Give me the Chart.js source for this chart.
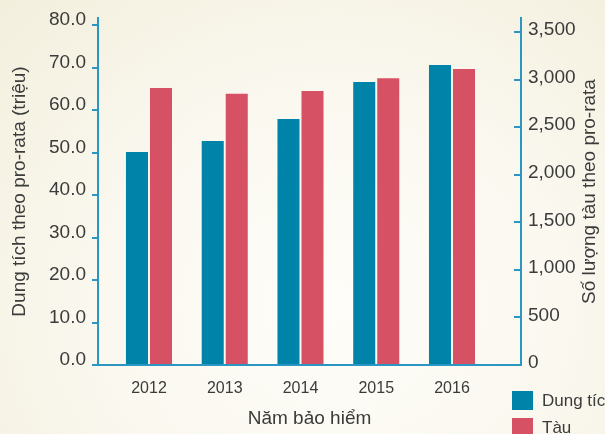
<!DOCTYPE html>
<html>
<head>
<meta charset="utf-8">
<script src="https://cdn.jsdelivr.net/npm/chart.js@4"></script>
<style>
    html, body { margin: 0; padding: 0; overflow: hidden; }
    body {
        width: 605px;
        height: 434px;
        background: radial-gradient(ellipse at 55% 70%, #fefdf9 0%, #faf8ef 50%, #f3efdd 100%);
    }
</style>
</head>
<body>
<canvas id="myChart" width="605" height="434"></canvas>
<script>
// data
const years = [2012, 2013, 2014, 2015, 2016];
const dungTich = [50.1, 52.7, 57.9, 66.6, 70.6];   // left axis (triệu)
const tau = [2910, 2850, 2880, 3015, 3110];        // right axis
const leftTicks = [0, 10, 20, 30, 40, 50, 60, 70, 80];
const rightTicks = [0, 500, 1000, 1500, 2000, 2500, 3000, 3500];
const seriesLabels = ['Dung tích', 'Tàu'];

const axisColor = '#2a97c2';
const textColor = '#3b3b3b';
const fontFamily = '"Liberation Sans", Arial, sans-serif';

Chart.defaults.color = textColor;
Chart.defaults.font.family = fontFamily;

// legend in the bottom right corner, stacked, runs off the canvas edge like the original
const bottomLegend = {
    id: 'bottomLegend',
    afterDraw(chart) {
        const ctx = chart.ctx;
        const area = chart.chartArea;
        ctx.save();
        ctx.font = '17px ' + fontFamily;
        ctx.textBaseline = 'middle';
        chart.data.datasets.forEach((ds, i) => {
            const y = area.bottom + 26 + i * 27;
            ctx.fillStyle = ds.backgroundColor;
            ctx.fillRect(area.right - 9, y, 21, 19);
            ctx.fillStyle = textColor;
            ctx.fillText(ds.label, area.right + 21, y + 10);
        });
        ctx.restore();
    }
};

// right axis title reads bottom to top, chart.js would rotate it the other way
const rightTitle = {
    id: 'rightTitle',
    afterDraw(chart) {
        const s = chart.scales.y2;
        const ctx = chart.ctx;
        ctx.save();
        ctx.translate(s.right - 15, (s.top + s.bottom) / 2);
        ctx.rotate(-Math.PI / 2);
        ctx.font = '19px ' + fontFamily;
        ctx.fillStyle = textColor;
        ctx.textAlign = 'center';
        ctx.textBaseline = 'middle';
        ctx.fillText('Số lượng tàu theo pro-rata', 0, 0);
        ctx.restore();
    }
};

// keep chart.js from pushing the plot area in for label overhang
function noPad(scale) {
    scale.paddingTop = 0;
    scale.paddingBottom = 0;
    scale.paddingLeft = 0;
    scale.paddingRight = 0;
}

const ctx = document.getElementById('myChart').getContext('2d');
const myChart = new Chart(ctx, {
    type: 'bar',
    data: {
        datasets: [
            {
                label: seriesLabels[0],
                data: years.map((y, i) => ({ x: y, y: dungTich[i] })),
                backgroundColor: '#0083a9',
                yAxisID: 'y',
                categoryPercentage: 0.634,
                barPercentage: 0.917,
            },
            {
                label: seriesLabels[1],
                data: years.map((y, i) => ({ x: y, y: tau[i] })),
                backgroundColor: '#d55163',
                yAxisID: 'y2',
                categoryPercentage: 0.634,
                barPercentage: 0.917,
            },
        ]
    },
    options: {
        responsive: false,
        animation: false,
        layout: { padding: { top: 18, left: 0, right: 0, bottom: 0 } },
        plugins: {
            legend: { display: false },
            tooltip: { enabled: false }
        },
        scales: {
            x: {
                type: 'linear',
                offset: false,
                min: 2011.327,
                max: 2016.911,
                afterBuildTicks: scale => { scale.ticks = years.map(v => ({ value: v })); },
                afterFit: scale => { scale.height = 69; noPad(scale); },
                ticks: {
                    callback: v => String(v),
                    autoSkip: false,
                    maxRotation: 0,
                    padding: 6,
                    font: { size: 16 }
                },
                grid: { display: false },
                border: { color: axisColor, width: 2 },
                title: {
                    display: true,
                    text: 'Năm bảo hiểm',
                    font: { size: 19 },
                    padding: { top: 0, bottom: 4 }
                }
            },
            y: {
                position: 'left',
                min: 0,
                max: 81.65,
                afterBuildTicks: scale => { scale.ticks = leftTicks.map(v => ({ value: v })); },
                afterFit: scale => { scale.width = 98; noPad(scale); },
                ticks: {
                    callback: v => v.toFixed(1),
                    padding: 6,
                    labelOffset: -5,
                    font: { size: 19 }
                },
                grid: {
                    drawOnChartArea: false,
                    tickLength: 6,
                    color: axisColor,
                    lineWidth: 2
                },
                border: { color: axisColor, width: 2 },
                title: {
                    display: true,
                    text: 'Dung tích theo pro-rata (triệu)',
                    font: { size: 19 },
                    padding: { top: 8, bottom: 0 }
                }
            },
            y2: {
                position: 'right',
                min: 0,
                max: 3647,
                afterBuildTicks: scale => { scale.ticks = rightTicks.map(v => ({ value: v })); },
                afterFit: scale => { scale.width = 84; noPad(scale); },
                ticks: {
                    callback: v => v.toLocaleString('en-US'),
                    padding: 14,
                    labelOffset: -2,
                    font: { size: 19 }
                },
                grid: {
                    drawOnChartArea: false,
                    tickLength: -7,
                    color: axisColor,
                    lineWidth: 2
                },
                border: { color: axisColor, width: 2 }
            }
        }
    },
    plugins: [bottomLegend, rightTitle]
});
</script>
</body>
</html>
